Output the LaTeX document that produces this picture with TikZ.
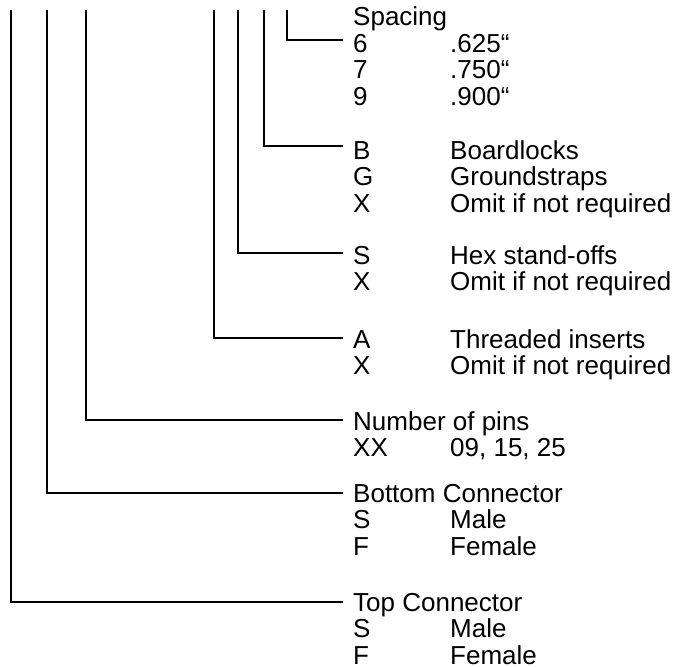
\documentclass[tikz,border=0pt]{standalone}
\usepackage{fontspec}
\setmainfont{Liberation Sans}
\usetikzlibrary{calc}
\begin{document}
\begin{tikzpicture}[x=1pt,y=-1pt,
  lead/.style={line width=2.5pt, line join=miter},
  grp/.style={anchor=base west, inner sep=0pt, font=\fontsize{26}{26.5}\selectfont}]
\useasboundingbox (0,0) rectangle (676,666);
% free top ends of the leads
\coordinate (v1) at (11,10);
\coordinate (v2) at (47,10);
\coordinate (v3) at (86,10);
\coordinate (v4) at (214,10);
\coordinate (v5) at (238,10);
\coordinate (v6) at (264,10);
\coordinate (v7) at (287,10);
% text groups
\node[grp] (sp) at (353,26) {\begin{tabular}[t]{@{}p{97pt}@{}l@{}}
\multicolumn{2}{@{}l@{}}{Spacing}\\ 6 & .625“\\ 7 & .750“\\ 9 & .900“\end{tabular}};
\node[grp] (bl) at (353,159) {\begin{tabular}[t]{@{}p{97pt}@{}l@{}}
B & Boardlocks\\ G & Groundstraps\\ X & Omit if not required\end{tabular}};
\node[grp] (hx) at (353,264) {\begin{tabular}[t]{@{}p{97pt}@{}l@{}}
S & Hex stand-offs\\ X & Omit if not required\end{tabular}};
\node[grp] (ti) at (353,348) {\begin{tabular}[t]{@{}p{97pt}@{}l@{}}
A & Threaded inserts\\ X & Omit if not required\end{tabular}};
\node[grp] (np) at (353,430) {\begin{tabular}[t]{@{}p{97pt}@{}l@{}}
\multicolumn{2}{@{}l@{}}{Number of pins}\\ XX & 09, 15, 25\end{tabular}};
\node[grp] (bc) at (353,502) {\begin{tabular}[t]{@{}p{97pt}@{}l@{}}
\multicolumn{2}{@{}l@{}}{Bottom Connector}\\ S & Male\\ F & Female\end{tabular}};
\node[grp] (tc) at (353,611) {\begin{tabular}[t]{@{}p{97pt}@{}l@{}}
\multicolumn{2}{@{}l@{}}{Top Connector}\\ S & Male\\ F & Female\end{tabular}};
% leads
\draw[lead] (v7) |- ([xshift=-10pt,yshift=-14pt]sp.base west);
\draw[lead] (v6) |- ([xshift=-10pt,yshift=13pt]bl.base west);
\draw[lead] (v5) |- ([xshift=-10pt,yshift=11pt]hx.base west);
\draw[lead] (v4) |- ([xshift=-10pt,yshift=10pt]ti.base west);
\draw[lead] (v3) |- ([xshift=-10pt,yshift=10pt]np.base west);
\draw[lead] (v2) |- ([xshift=-10pt,yshift=9pt]bc.base west);
\draw[lead] (v1) |- ([xshift=-10pt,yshift=9pt]tc.base west);
\end{tikzpicture}
\end{document}
